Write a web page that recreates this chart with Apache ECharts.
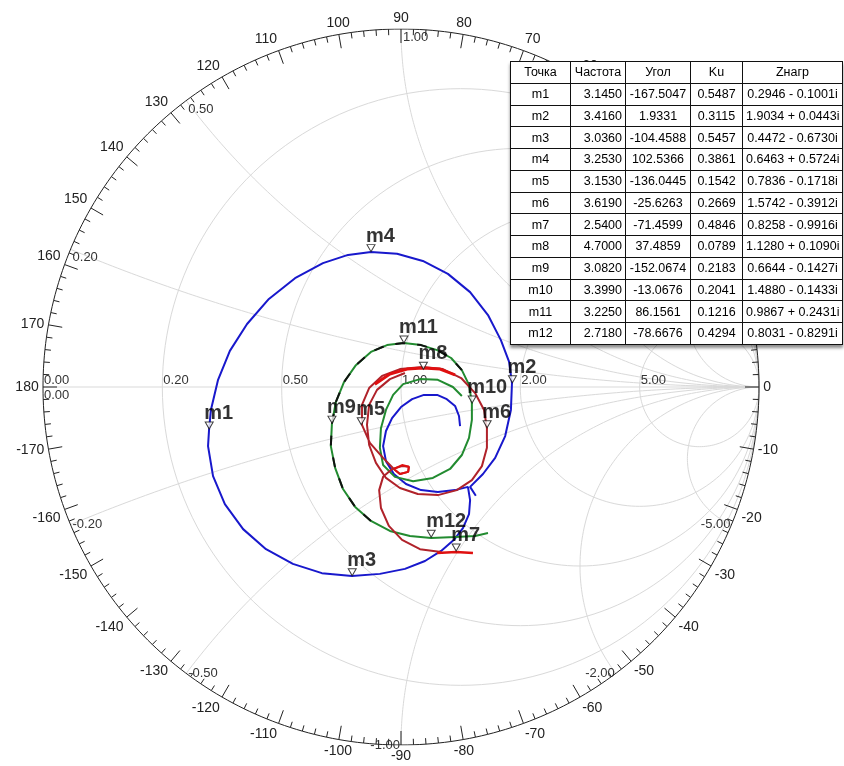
<!DOCTYPE html>
<html>
<head>
<meta charset="utf-8">
<script src="https://cdn.jsdelivr.net/npm/echarts@6/dist/echarts.min.js"></script>
<style>
    html, body { margin: 0; padding: 0; background: #fff; }
    #wrap  { position: relative; width: 844px; height: 766px; overflow: hidden; }
    #smithChart { position: absolute; left: 0; top: 0; width: 844px; height: 766px; }
    #markerTable {
        position: absolute; left: 510px; top: 61px; width: 332px;
        border-collapse: collapse; table-layout: fixed; background: #fff;
        font-family: "Liberation Sans Narrow", "Liberation Sans", Arial, sans-serif;
        font-size: 12.5px; color: #000;
        box-shadow: 0 3px 3px rgba(0,0,0,0.45);
    }
    #markerTable td { border: 1px solid #111; padding: 0 3px; text-align: center; white-space: nowrap; }
    #markerTable tr { height: 21.75px; }
    #markerTable td.freq { text-align: right; }
</style>
</head>
<body>
<div id="wrap">
    <div id="smithChart"></div>
    <table id="markerTable">
        <colgroup><col style="width:60px"><col style="width:55px"><col style="width:65px"><col style="width:52px"><col style="width:100px"></colgroup>
        <tbody id="tableBody"></tbody>
    </table>
</div>
<script>
// --- marker table -----------------------------------------------------
const tableHeader = ['Точка', 'Частота', 'Угол', 'Ku', 'Zнагр'];
const markerNames = ['m1','m2','m3','m4','m5','m6','m7','m8','m9','m10','m11','m12'];
const markerFreq  = [3.1450, 3.4160, 3.0360, 3.2530, 3.1530, 3.6190, 2.5400, 4.7000, 3.0820, 3.3990, 3.2250, 2.7180];
const markerAngle = [-167.5047, 1.9331, -104.4588, 102.5366, -136.0445, -25.6263, -71.4599, 37.4859, -152.0674, -13.0676, 86.1561, -78.6676];
const markerKu    = [0.5487, 0.3115, 0.5457, 0.3861, 0.1542, 0.2669, 0.4846, 0.0789, 0.2183, 0.2041, 0.1216, 0.4294];
const markerZre   = [0.2946, 1.9034, 0.4472, 0.6463, 0.7836, 1.5742, 0.8258, 1.1280, 0.6644, 1.4880, 0.9867, 0.8031];
const markerZim   = [-0.1001, 0.0443, -0.6730, 0.5724, -0.1718, -0.3912, -0.9916, 0.1090, -0.1427, -0.1433, 0.2431, -0.8291];

// --- smith grid -------------------------------------------------------
const rGridValues  = [0.2, 0.5, 1, 2, 5];
const xGridValues  = [0.2, 0.5, 1, 2, 5, -0.2, -0.5, -1, -2, -5];
const angleLabels  = [0, 10, 20, 30, 40, 50, 60, 70, 80, 90, 100, 110, 120, 130, 140, 150, 160, 170, 180,
                      -170, -160, -150, -140, -130, -120, -110, -100, -90, -80, -70, -60, -50, -40, -30, -20, -10];

// --- traces (reflection coefficient, re / im) ---
const traceBlue = [
    [0.165,-0.109],[0.162,-0.081],[0.151,-0.053],[0.128,-0.034],[0.101,-0.022],[0.064,-0.022],[0.031,-0.034],
    [0.000,-0.056],[-0.025,-0.087],[-0.042,-0.123],[-0.050,-0.165],[-0.042,-0.207],[-0.020,-0.243],[0.014,-0.271],
    [0.056,-0.288],[0.103,-0.293],[0.151,-0.288],[0.187,-0.279],
    [0.193,-0.316],[0.190,-0.355],[0.173,-0.394],[0.148,-0.427],[0.112,-0.458],[0.067,-0.486],[0.011,-0.508],
    [-0.059,-0.522],[-0.137,-0.528],[-0.221,-0.520],[-0.302,-0.494],[-0.377,-0.453],[-0.441,-0.397],[-0.492,-0.327],
    [-0.525,-0.249],[-0.539,-0.165],[-0.536,-0.117],[-0.531,-0.064],[-0.511,0.020],[-0.478,0.101],[-0.430,0.176],
    [-0.369,0.246],[-0.296,0.304],[-0.218,0.346],[-0.148,0.369],[-0.084,0.377],[-0.011,0.372],[0.061,0.352],
    [0.131,0.316],[0.193,0.265],[0.243,0.201],[0.279,0.131],[0.302,0.070],[0.310,0.011],[0.307,-0.064],
    [0.291,-0.137],[0.263,-0.198],[0.229,-0.243],[0.193,-0.279],[0.209,-0.304]
];
const traceGreen = [
    [0.243,-0.408],[0.207,-0.416],[0.151,-0.419],[0.084,-0.422],[0.025,-0.416],[-0.031,-0.402],[-0.084,-0.374],
    [-0.128,-0.335],[-0.162,-0.285],[-0.184,-0.226],[-0.196,-0.165],[-0.193,-0.103],[-0.182,-0.042],[-0.159,0.014],
    [-0.126,0.061],[-0.084,0.098],[-0.039,0.117],[0.008,0.123],[0.056,0.117],[0.101,0.103],[0.140,0.081],
    [0.170,0.047],[0.190,0.006],[0.198,-0.045],[0.198,-0.092],[0.190,-0.142],[0.170,-0.190],[0.137,-0.229],
    [0.089,-0.254],[0.034,-0.263],[-0.017,-0.251],[-0.050,-0.218],[-0.059,-0.170],[-0.056,-0.115],[-0.042,-0.064],
    [-0.022,-0.022],[0.006,0.008],[0.053,0.022],[0.103,0.020],[0.145,0.000],[0.170,-0.025]
];
const traceBlackDash = [
    [-0.084,-0.374],[-0.128,-0.335],[-0.162,-0.285],[-0.184,-0.226],[-0.196,-0.165],[-0.193,-0.103],[-0.182,-0.042],
    [-0.159,0.014],[-0.126,0.061],[-0.084,0.098],[-0.039,0.117],[0.008,0.123],[0.056,0.117],[0.101,0.103],
    [0.140,0.081],[0.170,0.047]
];
const traceDarkRed = [
    [0.112,-0.461],[0.053,-0.453],[0.003,-0.427],[-0.034,-0.388],[-0.056,-0.338],[-0.061,-0.288],[-0.050,-0.251],
    [-0.025,-0.229],[0.003,-0.221],[0.022,-0.223],[0.020,-0.237],[-0.003,-0.243],[-0.020,-0.229],[-0.050,-0.198],
    [-0.087,-0.156],[-0.109,-0.106],[-0.109,-0.050],[-0.089,-0.003],[-0.053,0.031],[-0.003,0.050],[0.061,0.056],
    [0.117,0.050],[0.168,0.025],[0.207,-0.017],[0.232,-0.064],[0.240,-0.115],[0.240,-0.170],[0.226,-0.221],
    [0.198,-0.260],[0.156,-0.288],[0.103,-0.302],[0.047,-0.299],[-0.003,-0.282],[-0.042,-0.254],[-0.070,-0.212],
    [-0.089,-0.162],[-0.095,-0.106],[-0.089,-0.050],[-0.067,-0.008],[-0.031,0.022],[0.011,0.039]
];
const traceRedTop  = [[-0.073,0.008],[-0.031,0.036],[0.017,0.050],[0.061,0.053],[0.109,0.050],[0.151,0.034]];
const traceRedEnd  = [[0.101,-0.464],[0.154,-0.461],[0.201,-0.464]];
const traceRedLoop = [[-0.020,-0.229],[0.003,-0.218],[0.022,-0.223],[0.020,-0.237],[-0.003,-0.243],[-0.020,-0.229]];

// reflection coefficient of a normalised impedance r + jx
function gammaOf(r, x) {
    const d = (r + 1) * (r + 1) + x * x;
    return [(r * r - 1 + x * x) / d, 2 * x / d];
}

const fontSans = '"Liberation Sans", Arial, sans-serif';

document.addEventListener('DOMContentLoaded', () => {

    // table
    const tbody = document.getElementById('tableBody');
    let html = '<tr>' + tableHeader.map(h => `<td>${h}</td>`).join('') + '</tr>';
    markerNames.forEach((nm, i) => {
        const im = markerZim[i];
        const z  = markerZre[i].toFixed(4) + (im < 0 ? ' - ' : ' + ') + Math.abs(im).toFixed(4) + 'i';
        html += `<tr><td>${nm}</td><td class="freq">${markerFreq[i].toFixed(4)}</td>` +
                `<td>${markerAngle[i].toFixed(4)}</td><td>${markerKu[i].toFixed(4)}</td><td>${z}</td></tr>`;
    });
    tbody.innerHTML = html;

    const chart = echarts.init(document.getElementById('smithChart'));
    const gridLine = { color: '#d9d9d9', width: 1 };
    const series = [];

    // constant resistance circles
    rGridValues.forEach(r => {
        const c = r / (1 + r), rad = 1 / (1 + r), pts = [];
        for (let t = 0; t <= 360; t += 2) {
            const a = t * Math.PI / 180;
            pts.push([c + rad * Math.cos(a), rad * Math.sin(a)]);
        }
        series.push({ type: 'line', data: pts, showSymbol: false, silent: true, lineStyle: gridLine, z: 1 });
    });

    // constant reactance arcs
    xGridValues.forEach(x => {
        const pts = [];
        for (let s = 0; s < 90; s += 0.5) pts.push(gammaOf(Math.tan(s * Math.PI / 180), x));
        pts.push([1, 0]);
        series.push({ type: 'line', data: pts, showSymbol: false, silent: true, lineStyle: gridLine, z: 1 });
    });

    // real axis
    series.push({ type: 'line', data: [[-1, 0], [1, 0]], showSymbol: false, silent: true, lineStyle: gridLine, z: 1 });

    // outer circle
    const outer = [];
    for (let t = 0; t <= 360; t += 1) {
        const a = t * Math.PI / 180;
        outer.push([Math.cos(a), Math.sin(a)]);
    }
    series.push({ type: 'line', data: outer, showSymbol: false, silent: true,
                  lineStyle: { color: '#222', width: 1 }, z: 2 });

    // angle ticks every 2 degrees, long ones every 10
    const tickData = [];
    for (let d = -178; d <= 180; d += 2) tickData.push([d, d % 10 === 0 ? 14 : 6]);
    series.push({
        type: 'custom', silent: true, z: 2, data: tickData,
        renderItem: (params, api) => {
            const a  = api.value(0) * Math.PI / 180, len = api.value(1);
            const p0 = api.coord([Math.cos(a), Math.sin(a)]);
            return { type: 'line',
                     shape: { x1: p0[0], y1: p0[1], x2: p0[0] - len * Math.cos(a), y2: p0[1] + len * Math.sin(a) },
                     style: { stroke: '#222', lineWidth: 1 } };
        }
    });

    // angle labels outside the circle
    series.push({
        type: 'custom', silent: true, z: 2, data: angleLabels.map(v => [v, 0]),
        renderItem: (params, api) => {
            const deg = api.value(0), a = deg * Math.PI / 180;
            const c = Math.cos(a), s = Math.sin(a);
            const p = api.coord([1.012 * c, 1.012 * s]);
            return { type: 'text', x: p[0], y: p[1],
                     style: { text: String(deg), fill: '#222', font: '14px ' + fontSans,
                              align: c > 0.3 ? 'left' : (c < -0.3 ? 'right' : 'center'),
                              verticalAlign: s > 0.3 ? 'bottom' : (s < -0.3 ? 'top' : 'middle') } };
        }
    });

    // reactance labels on the rim
    series.push({
        type: 'custom', silent: true, z: 2, data: xGridValues.map(x => [x, 0]),
        renderItem: (params, api) => {
            const x = api.value(0);
            const p = api.coord(gammaOf(0, x));
            const right = Math.abs(x) > 1 || x === -1;
            return { type: 'text', x: p[0] + (right ? -1 : 2), y: p[1] + (x > 0 ? 2 : 0),
                     style: { text: x.toFixed(2), fill: '#333', font: '13px ' + fontSans,
                              align: right ? 'right' : 'left', verticalAlign: x > 0 ? 'top' : 'middle' } };
        }
    });

    // resistance labels on the real axis, plus 0.00 twice at the short point
    series.push({
        type: 'custom', silent: true, z: 2, data: rGridValues.concat([0, 0]).map((r, i) => [r, i]),
        renderItem: (params, api) => {
            const r = api.value(0), idx = api.value(1);
            const p = api.coord(gammaOf(r, 0));
            const below = (r === 0 && idx === rGridValues.length + 1);
            return { type: 'text', x: p[0] + 1, y: p[1] + (below ? 2 : 0),
                     style: { text: r.toFixed(2), fill: '#333', font: '13px ' + fontSans,
                              align: 'left', verticalAlign: below ? 'top' : 'bottom' } };
        }
    });

    // measured traces
    const trace = (data, color, width, z, type) => ({
        type: 'line', data: data, showSymbol: false, silent: true, z: z,
        lineStyle: { color: color, width: width, type: type || 'solid' }
    });
    series.push(trace(traceBlue,      '#1818cc', 2,   3));
    series.push(trace(traceGreen,     '#228b30', 2,   3));
    series.push(trace(traceBlackDash, '#111111', 2,   3, [10, 12]));
    series.push(trace(traceDarkRed,   '#b0222a', 2,   3));
    series.push(trace(traceRedTop,    '#e01010', 3,   4));
    series.push(trace(traceRedEnd,    '#e01010', 2.5, 4));
    series.push(trace(traceRedLoop,   '#e01010', 2,   4));

    // markers from the impedances in the table
    series.push({
        type: 'scatter', z: 6, clip: false, silent: true,
        symbol: 'triangle', symbolRotate: 180, symbolSize: [8, 7], symbolOffset: [0, -4],
        itemStyle: { color: '#fff', borderColor: '#111', borderWidth: 1 },
        data: markerNames.map((nm, i) => ({ name: nm, value: gammaOf(markerZre[i], markerZim[i]) })),
        label: { show: true, position: 'top', align: 'left', distance: 0, offset: [-5, 2],
                 formatter: p => p.name, color: '#000', fontWeight: 'bold', fontSize: 20, fontFamily: fontSans }
    });

    chart.setOption({
        animation: false,
        backgroundColor: '#fff',
        grid:  { left: 43, top: 29, width: 716, height: 716 },
        xAxis: { type: 'value', min: -1, max: 1, show: false },
        yAxis: { type: 'value', min: -1, max: 1, show: false },
        series: series
    });
});
</script>
</body>
</html>
